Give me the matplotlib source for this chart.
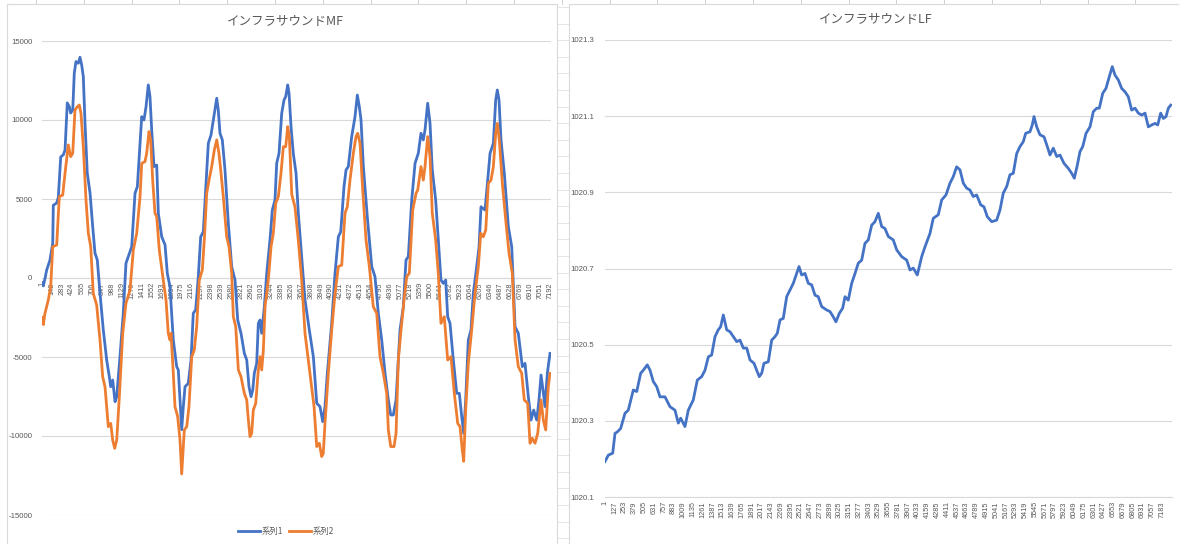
import matplotlib
matplotlib.use("Agg")
import matplotlib.pyplot as plt
import matplotlib.patches as mpatches
import numpy as np

plt.rcParams['font.family'] = ['Noto Sans CJK JP', 'DejaVu Sans']

### MF chart data (sample index, value) ###
mf_idx1 = [1, 20, 45, 67, 114, 153, 161, 209, 232, 266, 303, 327, 359, 388, 407, 436, 458, 482, 515, 539,
           563, 586, 610, 642, 681, 719, 751, 784, 822, 869, 917, 954, 974, 1002, 1035, 1059, 1105, 1152, 1190, 1223,
           1271, 1318, 1351, 1389, 1413, 1445, 1474, 1506, 1530, 1554, 1587, 1625, 1648, 1696, 1743, 1775, 1813, 1860, 1908, 1931,
           1955, 1979, 2002, 2026, 2072, 2111, 2143, 2177, 2214, 2248, 2285, 2319, 2356, 2394, 2427, 2475, 2497, 2521, 2554, 2592,
           2639, 2687, 2734, 2772, 2819, 2866, 2900, 2932, 2961, 2985, 3007, 3041, 3064, 3088, 3112, 3149, 3183, 3229, 3262, 3300,
           3324, 3357, 3395, 3428, 3452, 3480, 3499, 3527, 3559, 3598, 3630, 3678, 3725, 3786, 3843, 3891, 3937, 3976, 4008, 4041,
           4103, 4150, 4197, 4231, 4277, 4306, 4338, 4386, 4433, 4466, 4494, 4518, 4551, 4607, 4670, 4716, 4763, 4811, 4858, 4905,
           4939, 4975, 5014, 5070, 5117, 5155, 5188, 5236, 5283, 5329, 5367, 5400, 5424, 5462, 5495, 5527, 5575, 5612, 5650, 5683,
           5717, 5745, 5778, 5825, 5873, 5910, 5944, 5972, 6000, 6037, 6075, 6108, 6156, 6189, 6217, 6274, 6312, 6345, 6392, 6425,
           6448, 6472, 6500, 6547, 6604, 6652, 6699, 6745, 6802, 6840, 6887, 6925, 6963, 7006, 7038, 7067, 7095, 7123, 7156, 7194]
mf_s1 = [-300, -500, 0, 500, 1140, 2200, 4600, 4750, 5100, 7660, 7800, 8100, 11080, 10840, 10440, 10630, 12960, 13700, 13590, 13970,
         13480, 12740, 9790, 6640, 5380, 3250, 1580, 1140, -950, -3290, -5190, -6250, -6880, -6460, -7830, -7510, -4980, -2220, 930, 1350,
         1980, 5360, 5780, 8530, 10210, 10000, 10840, 12220, 11480, 9370, 7050, 7150, 4100, 2610, 2100, 300, -550, -3920, -5610, -5820,
         -7720, -9600, -8140, -6880, -6670, -5190, -2230, -2020, 80, 2610, 2930, 5570, 8530, 9050, 10000, 11380, 10630, 9160, 8740, 6840,
         3460, 720, -130, -2660, -3500, -4770, -5190, -6880, -7510, -7090, -6030, -5400, -2870, -2660, -3500, -1820, 300, 2410, 4300, 4940,
         7260, 7890, 10420, 11270, 11480, 12220, 11690, 9580, 7890, 6630, 4100, 1350, -1390, -3290, -4980, -7930, -8140, -9090, -8140, -6030,
         -2870, 300, 2610, 2930, 5780, 6840, 7050, 8950, 10210, 11580, 10840, 10000, 7050, 3880, 720, 80, -2230, -3920, -6030, -7720,
         -8670, -8670, -7720, -3290, -1820, 1140, 1350, 4940, 7260, 7890, 9160, 8740, 9370, 11060, 9790, 6840, 4940, 2410, -130, -340,
         -130, -2450, -2870, -5190, -7300, -7300, -8770, -9830, -7720, -3920, -3290, -970, 720, 1980, 4510, 4300, 6200, 7890, 8530, 11270,
         11900, 11270, 8740, 6630, 3250, 1980, -3080, -3500, -5610, -5400, -7510, -8990, -8360, -8990, -7720, -6140, -7090, -8140, -6030, -4770]

mf_idx2 = [1, 20, 40, 90, 124, 153, 209, 246, 294, 327, 373, 407, 436, 468, 501, 529, 553, 586, 624, 657,
           691, 727, 775, 822, 860, 893, 940, 974, 1002, 1030, 1059, 1096, 1144, 1190, 1247, 1294, 1342, 1389, 1413, 1459,
           1483, 1516, 1540, 1568, 1601, 1625, 1662, 1718, 1757, 1789, 1813, 1828, 1860, 1884, 1922, 1955, 1979, 2016, 2050, 2082,
           2121, 2157, 2191, 2228, 2271, 2299, 2333, 2366, 2404, 2441, 2475, 2507, 2536, 2568, 2616, 2649, 2687, 2710, 2744, 2781,
           2819, 2866, 2900, 2923, 2946, 2970, 2993, 3027, 3064, 3088, 3112, 3135, 3159, 3205, 3244, 3276, 3310, 3347, 3385, 3418,
           3452, 3480, 3503, 3537, 3583, 3630, 3678, 3725, 3772, 3820, 3853, 3891, 3928, 3961, 3984, 4008, 4055, 4103, 4150, 4197,
           4245, 4291, 4324, 4362, 4409, 4447, 4471, 4504, 4542, 4589, 4636, 4692, 4740, 4787, 4834, 4882, 4905, 4939, 4985, 5014,
           5046, 5080, 5127, 5165, 5202, 5250, 5297, 5321, 5367, 5400, 5424, 5462, 5495, 5527, 5575, 5612, 5650, 5697, 5745, 5792,
           5839, 5887, 5920, 5952, 5972, 6000, 6037, 6085, 6132, 6179, 6213, 6250, 6284, 6321, 6359, 6392, 6425, 6448, 6476, 6519,
           6567, 6614, 6660, 6699, 6745, 6793, 6830, 6878, 6911, 6943, 6982, 7020, 7067, 7099, 7133, 7170, 7194]
mf_s2 = [-2500, -2950, -2300, -1390, -550, 1980, 2090, 5150, 5250, 6630, 8420, 7680, 7890, 10630, 10840, 10950, 10420, 8310, 4940, 2830,
         1980, -970, -1710, -3920, -6250, -6880, -9410, -9200, -10260, -10780, -10260, -7510, -3500, -1600, -760, 1770, 2830, 5150, 7260, 7360,
         7890, 9270, 8740, 6200, 4100, 3880, 1770, -130, -1390, -3500, -3920, -3500, -6030, -8140, -8770, -10260, -12400, -9620, -9410, -8140,
         -4980, -4560, -3080, -130, 510, 2410, 5360, 6200, 7050, 8100, 8740, 7890, 6630, 5150, 2610, 1980, 300, -2450, -3080, -5820,
         -6250, -7300, -7720, -8990, -10040, -9830, -8360, -7930, -5820, -4980, -5820, -4560, -1820, -130, 1980, 2830, 4730, 5150, 6630, 8310,
         8310, 9580, 8950, 5300, 4500, 2410, -130, -3500, -5190, -6880, -8140, -10670, -10460, -11300, -11100, -9200, -6030, -3290, -970, 720,
         820, 4100, 4510, 6200, 7890, 8950, 9160, 8530, 5570, 2410, 720, -1820, -2230, -4980, -6030, -7300, -9620, -10670, -10670, -9830,
         -5190, -3500, -1390, 80, 300, 4300, 5360, 5570, 7050, 6200, 7050, 8950, 7680, 4100, 2410, 300, -2870, -2450, -5190, -4980,
         -7300, -9200, -9410, -10890, -11600, -8360, -5400, -3290, -970, 720, 2830, 2610, 3040, 5990, 6200, 7050, 9160, 9790, 8740, 5990,
         3670, 1560, 300, -3920, -5610, -6030, -7720, -7930, -10460, -10140, -10460, -9830, -7720, -8990, -9620, -6880, -6030]

mf_ticks = list(range(1, 7200, 141))

### LF chart data ###
lf_idx = [1, 44, 100, 130, 160, 203, 259, 301, 366, 410, 461, 495, 546, 581, 624, 667, 710, 774, 839, 903,
          946, 977, 1032, 1075, 1139, 1191, 1247, 1290, 1333, 1376, 1419, 1461, 1492, 1526, 1570, 1612, 1655, 1699, 1741, 1784,
          1828, 1870, 1922, 1956, 1990, 2021, 2050, 2106, 2150, 2192, 2222, 2257, 2299, 2343, 2386, 2428, 2472, 2502, 2536, 2579,
          2622, 2665, 2708, 2750, 2794, 2859, 2901, 2944, 2978, 3021, 3065, 3095, 3137, 3181, 3224, 3266, 3310, 3352, 3395, 3439,
          3481, 3524, 3568, 3610, 3653, 3717, 3761, 3826, 3890, 3933, 3975, 4027, 4083, 4126, 4190, 4233, 4297, 4341, 4396, 4448,
          4490, 4534, 4577, 4620, 4663, 4706, 4748, 4792, 4844, 4886, 4929, 4986, 5050, 5093, 5135, 5179, 5221, 5264, 5308, 5350,
          5393, 5424, 5479, 5509, 5531, 5566, 5608, 5660, 5703, 5737, 5780, 5824, 5866, 5918, 5973, 6017, 6051, 6090, 6124, 6159,
          6202, 6253, 6296, 6340, 6373, 6417, 6459, 6502, 6540, 6575, 6618, 6661, 6704, 6747, 6790, 6833, 6876, 6919, 6962, 7005,
          7049, 7091, 7126, 7164, 7198, 7233, 7263, 7294]
lf_val = [1020.193, 1020.210, 1020.215, 1020.267, 1020.271, 1020.280, 1020.320, 1020.328, 1020.381, 1020.377,
          1020.425, 1020.433, 1020.447, 1020.433, 1020.403, 1020.390, 1020.363, 1020.363, 1020.337, 1020.328,
          1020.294, 1020.307, 1020.285, 1020.328, 1020.355, 1020.407, 1020.416, 1020.433, 1020.468, 1020.473,
          1020.521, 1020.539, 1020.547, 1020.578, 1020.539, 1020.534, 1020.521, 1020.508, 1020.512, 1020.491,
          1020.491, 1020.460, 1020.451, 1020.433, 1020.416, 1020.425, 1020.451, 1020.455, 1020.512, 1020.521,
          1020.530, 1020.565, 1020.569, 1020.626, 1020.644, 1020.661, 1020.687, 1020.705, 1020.683, 1020.687,
          1020.661, 1020.657, 1020.630, 1020.626, 1020.600, 1020.591, 1020.587, 1020.573, 1020.560, 1020.582,
          1020.596, 1020.626, 1020.617, 1020.661, 1020.687, 1020.714, 1020.722, 1020.766, 1020.775, 1020.814,
          1020.823, 1020.845, 1020.810, 1020.805, 1020.784, 1020.775, 1020.749, 1020.731, 1020.722, 1020.696,
          1020.701, 1020.683, 1020.731, 1020.757, 1020.792, 1020.832, 1020.841, 1020.880, 1020.893, 1020.924,
          1020.941, 1020.967, 1020.959, 1020.924, 1020.911, 1020.906, 1020.889, 1020.893, 1020.867, 1020.862,
          1020.836, 1020.823, 1020.827, 1020.854, 1020.898, 1020.915, 1020.946, 1020.950, 1021.002, 1021.020,
          1021.033, 1021.055, 1021.059, 1021.077, 1021.099, 1021.072, 1021.051, 1021.046, 1021.020, 1020.998,
          1021.016, 1020.994, 1020.998, 1020.976, 1020.963, 1020.950, 1020.937, 1020.972, 1021.007, 1021.020,
          1021.055, 1021.072, 1021.112, 1021.121, 1021.121, 1021.160, 1021.173, 1021.204, 1021.230, 1021.208,
          1021.195, 1021.173, 1021.164, 1021.151, 1021.116, 1021.121, 1021.108, 1021.103, 1021.108, 1021.072,
          1021.077, 1021.081, 1021.077, 1021.108, 1021.094, 1021.099, 1021.121, 1021.129]

lf_ticks = list(range(1, 7300, 126))

BLUE = '#4472C4'
ORANGE = '#ED7D31'
TXT = '#595959'
GRID = '#d9d9d9'
NUMFONT = 'Liberation Sans'

W, H = 1179, 544
fig = plt.figure(figsize=(W / 100, H / 100), dpi=100)

def fx(px):
    return px / W

def fy(py):
    return 1 - py / H

### spreadsheet bits behind the charts (drawn under the axes) ###
for cx in np.arange(36, W, 47.8):
    fig.add_artist(plt.Line2D([fx(cx), fx(cx)], [fy(0), fy(4)], color='#c8c8c8', lw=0.6, zorder=-5))
for ry in np.arange(7, H, 16.6):
    fig.add_artist(plt.Line2D([fx(557), fx(569)], [fy(ry), fy(ry)], color='#e0e0e0', lw=0.6, zorder=-5))
fig.add_artist(mpatches.Rectangle((fx(7), fy(548)), fx(557) - fx(7), fy(4) - fy(548),
                                  transform=fig.transFigure, fill=True, fc='white', ec=GRID, lw=0.8, zorder=-4))
fig.add_artist(mpatches.Rectangle((fx(569), fy(548)), fx(1190) - fx(569), fy(4) - fy(548),
                                  transform=fig.transFigure, fill=True, fc='white', ec=GRID, lw=0.8, zorder=-4))

### LEFT: MF ###
ax1 = fig.add_axes([fx(42), fy(515), fx(551) - fx(42), fy(41) - fy(515)])
ax1.patch.set_alpha(0)
# axis line crosses at zero (set first: moving the spine resets the ticks)
for s in ['top', 'right', 'left']:
    ax1.spines[s].set_visible(False)
ax1.spines['bottom'].set_position(('data', 0))
ax1.spines['bottom'].set_color(GRID)
ax1.spines['bottom'].set_zorder(1)

ax1.plot(mf_idx1, mf_s1, color=BLUE, lw=2.0, label='系列1', zorder=3)
ax1.plot(mf_idx2, mf_s2, color=ORANGE, lw=2.0, label='系列2', zorder=3)
ax1.set_xlim(1, 7208)
ax1.set_ylim(-15000, 15000)
ax1.set_yticks(range(-15000, 15001, 5000))
ax1.set_yticklabels([str(v) for v in range(-15000, 15001, 5000)], family=NUMFONT)
ax1.set_xticks(mf_ticks)
ax1.set_xticklabels([str(t) for t in mf_ticks], rotation=90, fontsize=5.3, color=TXT, family=NUMFONT)
ax1.tick_params(axis='y', length=0, pad=7, labelsize=5.6, labelcolor=TXT)
ax1.tick_params(axis='x', length=0, pad=3)
ax1.grid(axis='y', color=GRID, lw=0.8, zorder=0)
ax1.set_axisbelow(True)
for lab in ax1.get_xticklabels():
    lab.set_zorder(4)

fig.legend(handles=ax1.get_lines(), loc='center', bbox_to_anchor=(fx(286), fy(531)), ncol=2,
           frameon=False, fontsize=6, labelcolor=TXT, handlelength=2.6, handletextpad=0.2, columnspacing=0.8)
fig.text(fx(285), fy(21), 'インフラサウンドMF', ha='center', va='center', fontsize=9, color=TXT)

### RIGHT: LF ###
ax2 = fig.add_axes([fx(605), fy(497), fx(1172) - fx(605), fy(40) - fy(497)])
ax2.patch.set_alpha(0)
for s in ['top', 'right', 'left']:
    ax2.spines[s].set_visible(False)
ax2.spines['bottom'].set_color(GRID)
ax2.plot(lf_idx, lf_val, color=BLUE, lw=2.0, zorder=3)
ax2.set_xlim(1, 7310)
ax2.set_ylim(1020.1, 1021.3)
ax2.set_yticks([1020.1, 1020.3, 1020.5, 1020.7, 1020.9, 1021.1, 1021.3])
ax2.set_yticklabels(['1020.1', '1020.3', '1020.5', '1020.7', '1020.9', '1021.1', '1021.3'], family=NUMFONT)
ax2.set_xticks(lf_ticks)
ax2.set_xticklabels([str(t) for t in lf_ticks], rotation=90, fontsize=5.3, color=TXT, family=NUMFONT)
ax2.tick_params(axis='y', length=0, pad=8, labelsize=5.6, labelcolor=TXT)
ax2.tick_params(axis='x', length=0, pad=3)
ax2.grid(axis='y', color=GRID, lw=0.8, zorder=0)
ax2.set_axisbelow(True)
fig.text(fx(876), fy(20), 'インフラサウンドLF', ha='center', va='center', fontsize=9, color=TXT)

fig.savefig('out.png', dpi=100, facecolor='white')
